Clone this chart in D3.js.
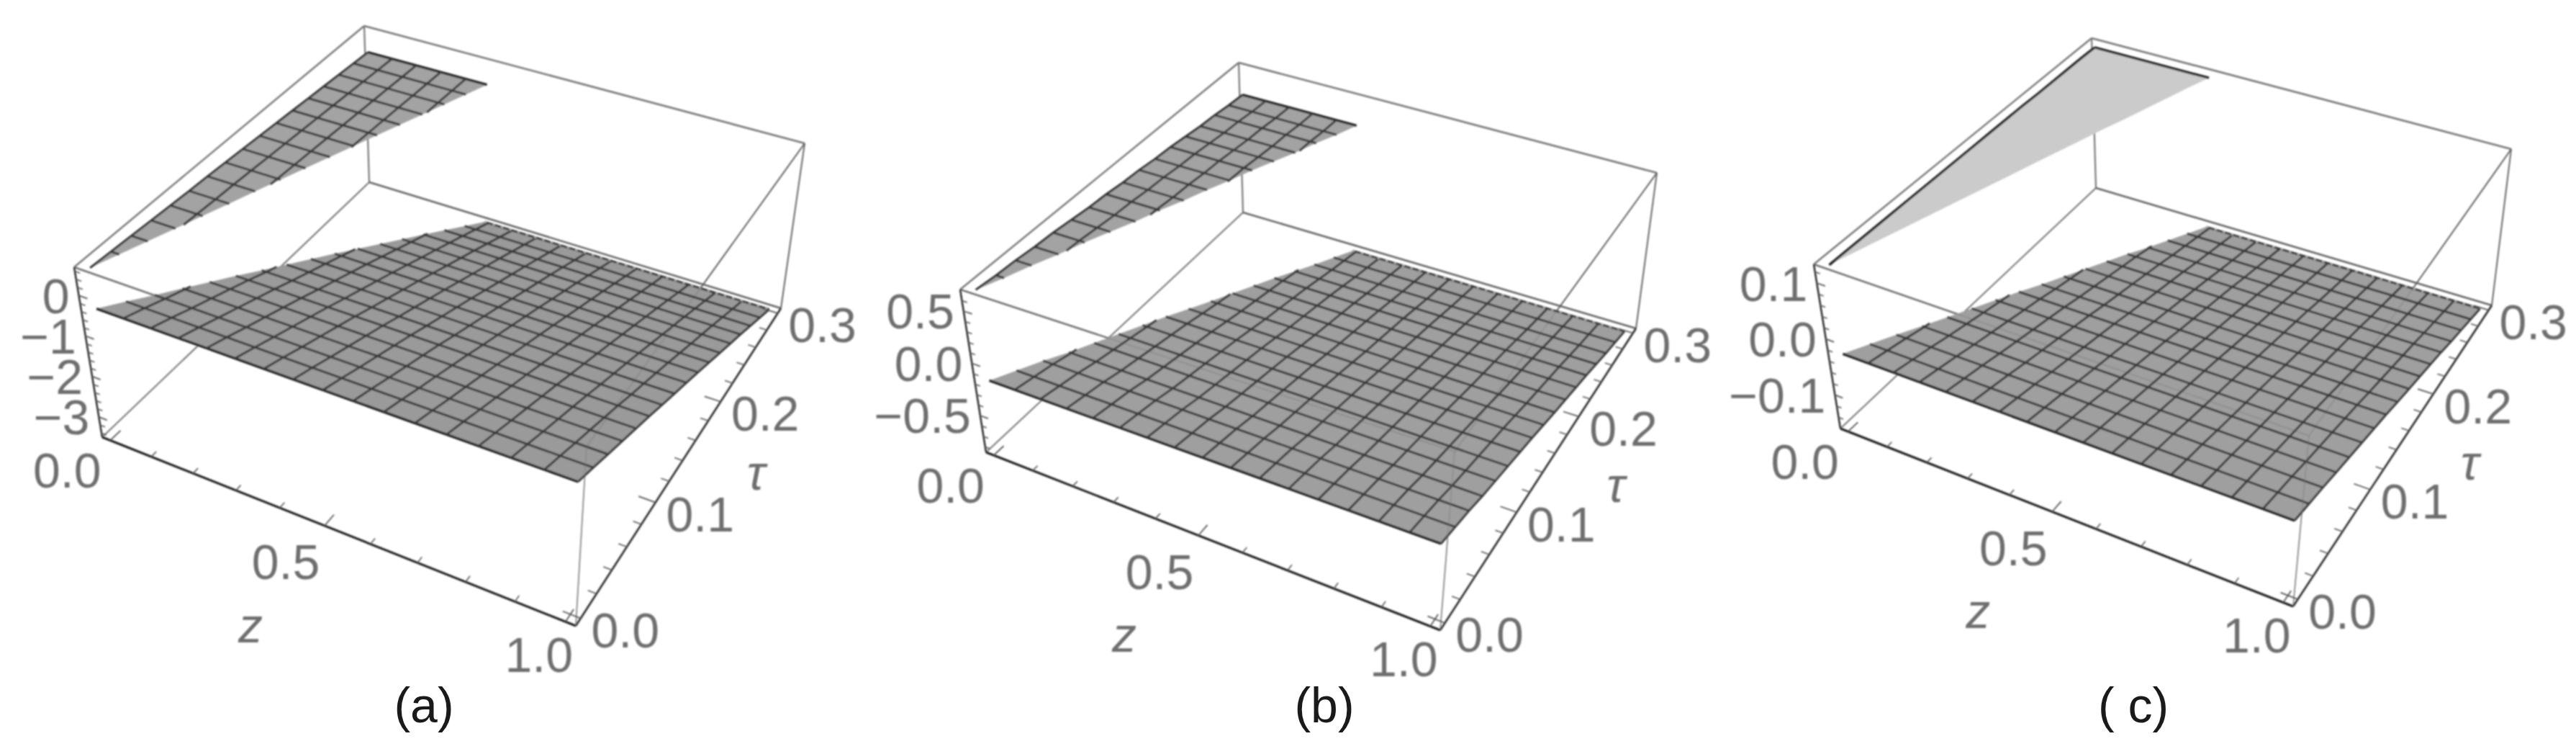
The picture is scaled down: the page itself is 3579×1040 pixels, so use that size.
<!DOCTYPE html>
<html><head><meta charset="utf-8">
<style>html,body{margin:0;padding:0;background:#fff}svg{display:block}
text{font-family:"Liberation Sans",Arial,sans-serif}</style>
<script src="https://cdnjs.cloudflare.com/ajax/libs/d3/7.8.5/d3.min.js"></script>
</head><body><svg id="c" width="3579" height="1040" viewBox="0 0 3579 1040"></svg>
<script>
// ---- data ----
const tauMesh=[0,.01875,.0375,.05625,.075,.09375,.1125,.13125,.15,.16875,.1875,.20625,.225,.24375,.2625,.28125,.3];
const zMesh=[0,.0625,.125,.1875,.25,.3125,.375,.4375,.5,.5625,.625,.6875,.75,.8125,.875,.9375,1];
const shockZ=[0,.0189,.0379,.0568,.0758,.0947,.1136,.1326,.1515,.1705,.1894,.2083,.2273,.2462,.2652,.2841,.303];
const lowerA=[-.39,-.58,-.78,-.97,-1.16,-1.35,-1.55,-1.74,-1.93,-2.12,-2.315,-2.51,-2.70,-2.89,-3.085,-3.28,-3.47];
const upperA=[.62,.59,.56,.53,.50,.47,.45,.42,.39,.36,.33,.30,.27,.24,.21,.18,.15];
const lowerB=[-.19,-.23,-.27,-.32,-.36,-.40,-.44,-.48,-.525,-.57,-.61,-.65,-.69,-.735,-.78,-.82,-.86];
const upperB=[.68,.66,.65,.63,.62,.60,.58,.57,.55,.54,.52,.51,.49,.47,.46,.44,.43];
const lowerC=[-.031,-.039,-.047,-.056,-.064,-.072,-.080,-.088,-.097,-.105,-.113,-.121,-.129,-.138,-.146,-.154,-.162];
const upperC=[.128,.128,.128,.128,.128,.128,.128,.128,.128,.128,.128,.128,.127,.127,.127,.127,.126];
const zTicks=[0,.5,1];
const zMinor=[.1,.2,.3,.4,.6,.7,.8,.9];
const tauTicks=[0,.1,.2,.3];
const tauMinor=[.02,.04,.06,.08,.12,.14,.16,.18,.22,.24,.26,.28];
const vTicksA=[0,-1,-2,-3], vMinorA=[-.2,-.4,-.6,-.8,-1.2,-1.4,-1.6,-1.8,-2.2,-2.4,-2.6,-2.8,-3.2,-3.4,.2,.4,.6];
const vTicksB=[.5,0,-.5], vMinorB=[.6,.4,.3,.2,.1,-.1,-.2,-.3,-.4,-.6,-.7,-.8];
const vTicksC=[.1,0,-.1], vMinorC=[.12,.08,.06,.04,.02,-.02,-.04,-.06,-.08,-.12,-.14];
const captions=["(a)","(b)","( c)"];
const vLabel=v=>(v<0?"\u2212":"")+Math.abs(v).toFixed(1);

// ---- layout: projected box corners [left, front, right, back] ----
const panels=[
 {bottom:[[142,607],[800,869],[1085,428],[513,253]],top:[[103,371],[815,620],[1118,199],[506,36]],
  vDomain:[-3.5,.7],lower:lowerA,upper:upperA,vTicks:vTicksA,vMinor:vMinorA,labels:v=>String(v).replace("-","\u2212"),
  fill:"#9a9a9a",upFill:"#a3a3a3",upMesh:true,capX:589},
 {bottom:[[1370,628],[2001,875],[2273,456],[1727,295]],top:[[1334,402],[2021,627],[2302,240],[1721,87]],
  vDomain:[-.852,.707],lower:lowerB,upper:upperB,vTicks:vTicksB,vMinor:vMinorB,labels:vLabel,
  fill:"#9f9f9f",upFill:"#a3a3a3",upMesh:true,capX:1840},
 {bottom:[[2557,595],[3186,842],[3462,424],[2912,261]],top:[[2520,367],[3208,605],[3489,207],[2906,53]],
  vDomain:[-.16,.1335],lower:lowerC,upper:upperC,vTicks:vTicksC,vMinor:vMinorC,labels:vLabel,
  fill:"#9f9f9f",upFill:"#cbcbcb",upMesh:false,capX:2964}
];
const zLabelOffset=[[-60,41],[-54,50],[-37,45]];
const tauLabelOffset=[62,16];
const zTitleOffset=[-103,144], tauTitleOffset=[93,37];

function quadMap(p){
  const [[x0,y0],[x1,y1],[x2,y2],[x3,y3]]=p;
  const dx1=x1-x2,dx2=x3-x2,sx=x0-x1+x2-x3,dy1=y1-y2,dy2=y3-y2,sy=y0-y1+y2-y3;
  const den=dx1*dy2-dx2*dy1,g=(sx*dy2-dx2*sy)/den,h=(dx1*sy-sx*dy1)/den;
  const a=x1-x0+g*x1,b=x3-x0+h*x3,d=y1-y0+g*y1,e=y3-y0+h*y3;
  return (u,v)=>{const w=g*u+h*v+1;return [(a*u+b*v+x0)/w,(d*u+e*v+y0)/w];};
}
const svg=d3.select("#c");
const defs=svg.append("defs");
defs.append("filter").attr("id","soft")
  .attr("filterUnits","userSpaceOnUse").attr("x",0).attr("y",0).attr("width",3579).attr("height",1040)
  .append("feGaussianBlur").attr("stdDeviation",0.9);

const zBox=d3.scaleLinear().domain([-.02,1.02]).range([0,1]);
const tauBox=d3.scaleLinear().domain([-.006,.306]).range([0,1]);
const line=d3.line();
const tauOfZ=d3.scaleLinear().domain(shockZ).range(tauMesh);

panels.forEach((P,idx)=>{
  const bot=quadMap(P.bottom), top=quadMap(P.top);
  const vBox=d3.scaleLinear().domain(P.vDomain).range([0,1]);
  const proj=(z,t,val)=>{const u=zBox(z),w=tauBox(t),h=vBox(val),a=bot(u,w),b=top(u,w);return [a[0]+(b[0]-a[0])*h,a[1]+(b[1]-a[1])*h];};
  const g=svg.append("g").attr("filter","url(#soft)");
  const [L,F,R,B]=P.bottom,[tL,tF,tR,tB]=P.top;
  const edge=(a,b,col,w,op)=>g.append("path").attr("d",line([a,b])).attr("fill","none").attr("stroke",col).attr("stroke-width",w).attr("opacity",op==null?1:op);
  edge(tL,tB,"#777",2.4); edge(tB,tR,"#777",2.6); edge(tB,B,"#777",2.2); edge(tR,R,"#666",2);
  edge(L,B,"#777",2); edge(B,R,"#666",2.6); edge(tL,tF,"#777",2.6); edge(tR,tF,"#666",2);
  edge(F,tF,"#999",1.8);
  const lowerV=d3.scaleLinear().domain(tauMesh).range(P.lower);
  const upperV=d3.scaleLinear().domain(tauMesh).range(P.upper);
  const lowPoly=[...tauMesh.map((t,j)=>proj(1,t,P.lower[j])),...tauMesh.map((t,j)=>proj(shockZ[j],t,P.lower[j])).reverse()];
  g.append("path").attr("d",line(lowPoly)+"Z").attr("fill",P.fill);
  const upPoly=[...tauMesh.map((t,j)=>proj(shockZ[j],t,P.upper[j])),...tauMesh.map((t,j)=>proj(0,t,P.upper[j])).reverse()];
  g.append("path").attr("d",line(upPoly)+"Z").attr("fill",P.upFill);
  const mesh=(pts,w,col)=>g.append("path").attr("d",line(pts)).attr("fill","none").attr("stroke",col||"#3a3a3a").attr("stroke-width",w);
  tauMesh.forEach((t,j)=>{ mesh([proj(shockZ[j],t,P.lower[j]),proj(1,t,P.lower[j])],(j==0)?3.4:3,j==0?"#222":null); });
  zMesh.forEach((z,i)=>{ if(i==0) return; const tEnd=Math.min(.3,tauOfZ(z));
    const ts=tauMesh.filter(t=>t<tEnd); mesh([...ts,tEnd].map(t=>proj(z,t,lowerV(t))),3); });
  g.append("path").attr("d",line([proj(shockZ[16],.3,P.lower[16]),proj(1,.3,P.lower[16])]))
    .attr("fill","none").attr("stroke","#fff").attr("stroke-width",2.2).attr("stroke-dasharray","3 9").attr("opacity",.6);
  if(P.upMesh){
    tauMesh.forEach((t,j)=>{ if(j==0) return; mesh([proj(0,t,P.upper[j]),proj(shockZ[j],t,P.upper[j])],j==16?3.4:3,j==16?"#222":null); });
    zMesh.forEach((z,i)=>{ const t0=tauOfZ(z); if(t0>=.3) return;
      const ts=tauMesh.filter(t=>t>t0); mesh([t0,...ts].map(t=>proj(z,t,upperV(t))),3,i==0?"#333":null); });
  } else {
    mesh(tauMesh.map((t,j)=>proj(0,t,P.upper[j])),3.4,"#222");
    mesh([proj(0,.3,P.upper[16]),proj(shockZ[16],.3,P.upper[16])],3.4,"#222");
  }
  edge(L,F,"#1e1e1e",3); edge(F,R,"#2a2a2a",2.6); edge(L,tL,"#222",2.4);
  edge(tF,F,"#777",1.4,.5);
  edge(tL,tF,"#555",1.4,.25); edge(tR,tF,"#555",1.4,.25);
  const vMin=P.vDomain[0];
  const tick=(a,b,w)=>g.append("path").attr("d",line([a,b])).attr("fill","none").attr("stroke","#555").attr("stroke-width",w);
  const tauBase=-.006;
  zTicks.forEach(z=>tick(proj(z,tauBase,vMin),proj(z,.004,vMin),1.8));
  zMinor.forEach(z=>tick(proj(z,tauBase,vMin),proj(z,-.001,vMin),1.6));
  tauTicks.forEach(t=>tick(proj(1.02,t,vMin),proj(.985,t,vMin),1.8));
  tauMinor.forEach(t=>tick(proj(1.02,t,vMin),proj(1.003,t,vMin),1.6));
  const vAt=(v,zz)=>proj(zz,tauBase,v);
  P.vTicks.forEach(v=>tick(vAt(v,-.02),vAt(v,.0),1.8));
  P.vMinor.forEach(v=>{ if(v>P.vDomain[1]||v<P.vDomain[0]) return; tick(vAt(v,-.02),vAt(v,-.008),1.6); });
  const lab=(x,y,s,anchor,dy,italic)=>g.append("text").attr("x",x).attr("y",y).attr("dy",dy||"0.36em")
    .attr("text-anchor",anchor||"middle").attr("font-size",68).attr("fill","#6e6e6e")
    .attr("font-style",italic?"italic":"normal").text(s);
  P.vTicks.forEach(v=>{const p=vAt(v,-.02);lab(p[0]-13,p[1],P.labels(v),"end");});
  zTicks.forEach((z,i)=>{const p=proj(z,-.006,vMin);lab(p[0]+zLabelOffset[i][0],p[1]+zLabelOffset[i][1],z.toFixed(1));});
  tauTicks.forEach(t=>{const p=proj(1.02,t,vMin);lab(p[0]+tauLabelOffset[0],p[1]+tauLabelOffset[1],t.toFixed(1));});
  const pz=proj(.5,-.006,vMin); lab(pz[0]+zTitleOffset[0],pz[1]+zTitleOffset[1],"z","middle","0.26em",true);
  const pt=proj(1.02,.15,vMin); lab(pt[0]+tauTitleOffset[0],pt[1]+tauTitleOffset[1],"\u03c4","middle","0.26em",true);
  svg.append("text").attr("x",P.capX).attr("y",1003).attr("text-anchor","middle").attr("font-size",68).attr("fill","#1a1a1a").text(captions[idx]);
});
</script></body></html>
